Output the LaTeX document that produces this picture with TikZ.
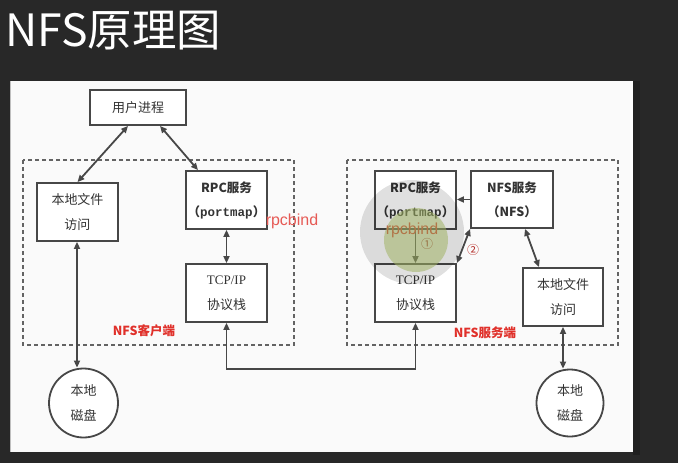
\documentclass[tikz,border=0pt]{standalone}
\usepackage{fontspec}
\setmainfont{Noto Sans CJK SC}
\newfontfamily\serifl{Liberation Serif}
\newfontfamily\monol{Liberation Mono}
\newfontfamily\sansl{Liberation Sans}
\usetikzlibrary{arrows.meta}
\definecolor{bgdark}{HTML}{282828}
\definecolor{panel}{HTML}{FAFAFA}
\definecolor{ln}{HTML}{474747}
\definecolor{txt}{HTML}{333333}
\definecolor{lblred}{HTML}{E0302A}
\definecolor{olive}{HTML}{A2B466}
\tikzset{
  box/.style={draw=ln, line width=1.8pt, fill=white, rectangle, text=txt, align=center, inner sep=0pt},
  disk/.style={draw=ln, line width=1.8pt, fill=white, circle, text=txt, align=center, inner sep=0pt},
  conn/.style={draw=ln, line width=1.8pt, -{Triangle[length=7pt,width=6pt]}},
  dconn/.style={draw=ln, line width=1.8pt, {Triangle[length=7pt,width=6pt]}-{Triangle[length=7pt,width=6pt]}},
  dashbox/.style={draw=ln!85, line width=1.4pt, dash pattern=on 4pt off 3pt},
  redlbl/.style={text=lblred, font=\bfseries\fontsize{12.5}{14}\selectfont},
}
\begin{document}
\begin{tikzpicture}[x=1pt,y=-1pt]
\useasboundingbox (0,0) rectangle (678,463);
\fill[bgdark] (0,0) rectangle (678,463);
\fill[black!88] (633,81) rectangle (640,455);
\fill[panel] (10,81) rectangle (633,452);
\draw[black!25, line width=0.6pt] (10,81) -- (10,452);
\node[anchor=west, text=white, font=\fontsize{44.5}{48}\selectfont, inner sep=0pt] (title) at (5,31) {NFS原理图};

% dashed groups
\draw[dashbox] (23,160) rectangle (294,345);
\draw[dashbox] (347,160) rectangle (618,345);

\begin{scope}[every node/.append style={font=\fontsize{13}{25}\selectfont}]
% client
\node[box, minimum width=96pt, minimum height=35pt] (user) at (138,107.5) {用户进程};
\node[box, minimum width=81pt, minimum height=58pt] (cfile) at (77.5,212) {本地文件\\访问};
\node[box, minimum width=81pt, minimum height=58pt, font=\bfseries\fontsize{12.5}{24}\selectfont] (crpc) at (226.5,200) {RPC服务\\（{\monol\bfseries portmap}）};
\node[box, minimum width=81pt, minimum height=58pt] (ctcp) at (226.5,293) {{\serifl TCP/IP}\\协议栈};
\node[disk, minimum size=69pt] (cdisk) at (83.5,403) {本地\\磁盘};
% server
\node[box, minimum width=81pt, minimum height=58pt, font=\bfseries\fontsize{12.5}{24}\selectfont] (srpc) at (415.5,200) {RPC服务\\（{\monol\bfseries portmap}）};
\node[box, minimum width=82pt, minimum height=57pt, font=\bfseries\fontsize{12.5}{24}\selectfont] (snfs) at (512,199.5) {NFS服务\\（NFS）};
\node[box, minimum width=81pt, minimum height=58pt] (stcp) at (415.5,293) {{\serifl TCP/IP}\\协议栈};
\node[box, minimum width=80pt, minimum height=58pt] (sfile) at (563,297) {本地文件\\访问};
\node[disk, minimum size=67pt] (sdisk) at (570,403) {本地\\磁盘};
\end{scope}

% client connectors
\draw[dconn] ([xshift=-10pt]user.south) -- (cfile.north);
\draw[dconn] ([xshift=22pt]user.south) -- ([xshift=-28.5pt]crpc.north);
\draw[dconn] (crpc.south) -- (ctcp.north);
\draw[dconn] ([xshift=-0.5pt]cfile.south) -- ([xshift=-0.5pt]cfile.south |- cdisk.north);
% network link
\draw[dconn] (ctcp.south) -- ++(0,46) -| (stcp.south);
% server connectors
\draw[conn] (snfs.west) -- (srpc.east |- snfs.west);
\draw[conn] (srpc.south) -- (stcp.north);
\draw[dconn] (snfs.south west) -- (stcp.north east);
\draw[dconn] ([xshift=13pt]snfs.south) -- ([xshift=-24pt]sfile.north);
\draw[dconn] (sfile.south) -- (sfile.south |- sdisk.north);

% labels
\node[text=lblred!80!white, font=\sansl\fontsize{16}{18}\selectfont, inner sep=0pt] (rpcc) at (292,221) {rpcbind};
\node[text=lblred, font=\sansl\fontsize{16}{18}\selectfont, inner sep=0pt] (rpcs) at (412,230) {rpcbind};
\node[text=lblred!70!black, font=\fontsize{12}{14}\selectfont, inner sep=0pt] (one) at (427,244) {①};
\node[text=lblred!80!black, font=\fontsize{12}{14}\selectfont, inner sep=0pt] (two) at (473,250) {②};
\node[redlbl] (clbl) at (144,331) {NFS客户端};
\node[redlbl] (slbl) at (485,333) {NFS服务端};

% highlight overlay
\fill[black, opacity=0.12] (412,232) circle (52);
\fill[olive, opacity=0.55] (416,240) circle (32);
\end{tikzpicture}
\end{document}
